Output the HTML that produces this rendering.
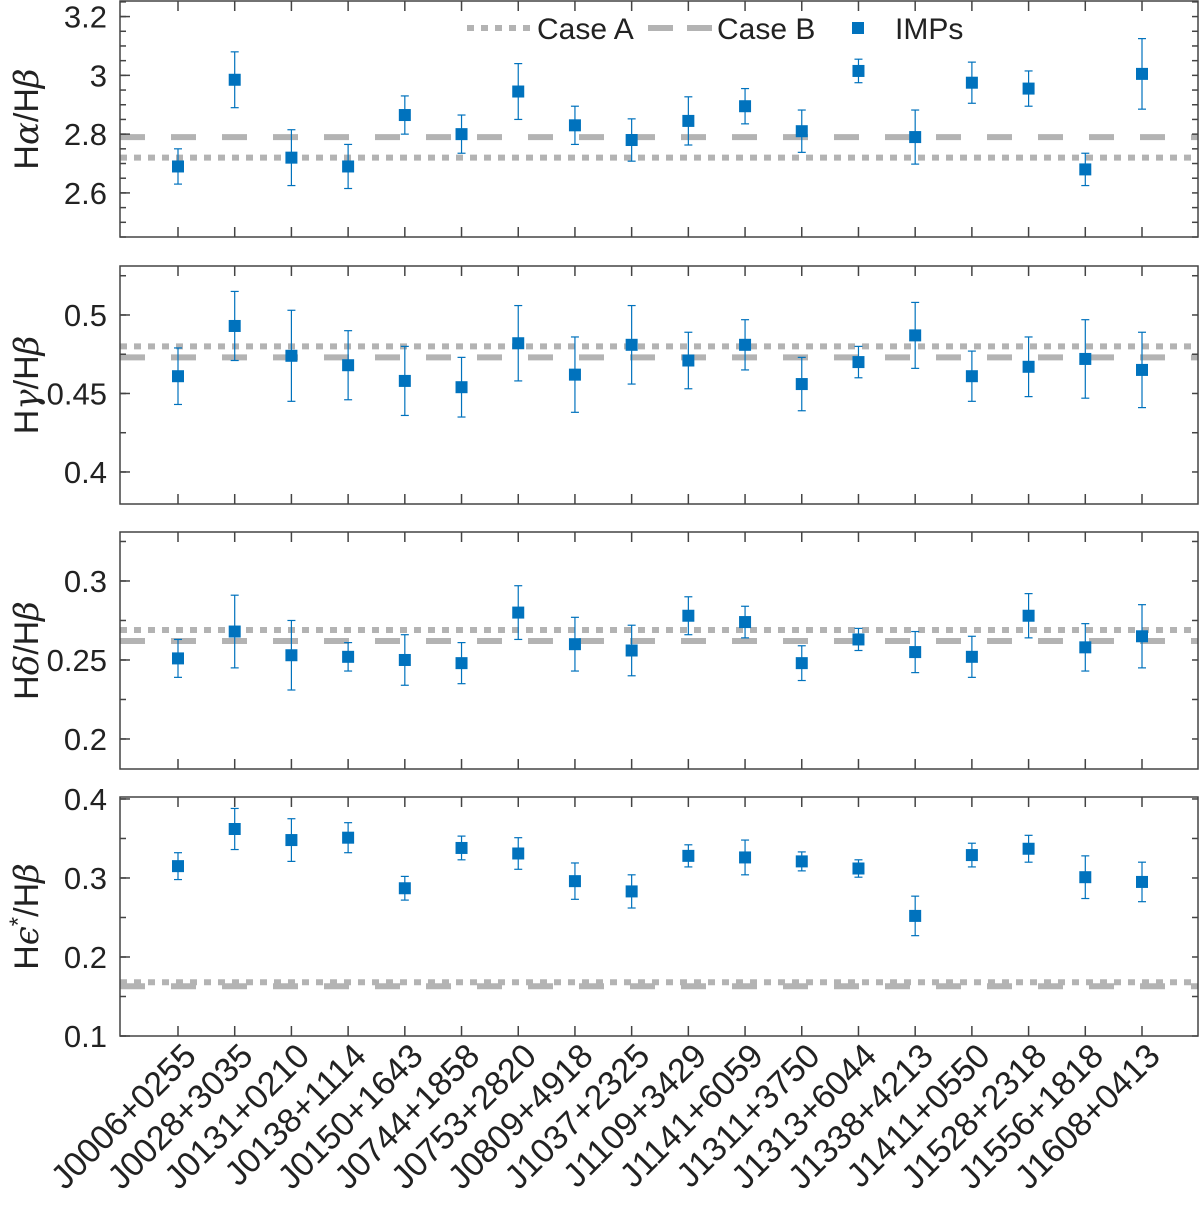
<!DOCTYPE html>
<html><head><meta charset="utf-8"><style>
body{margin:0;background:#fff}
svg text{font-family:"Liberation Sans",sans-serif;fill:#222}
</style></head><body>
<svg id="chart" width="1200" height="1203" xmlns="http://www.w3.org/2000/svg"></svg>
<script>
const categories=["J0006+0255","J0028+3035","J0131+0210","J0138+1114","J0150+1643","J0744+1858","J0753+2820","J0809+4918","J1037+2325","J1109+3429","J1141+6059","J1311+3750","J1313+6044","J1338+4213","J1411+0550","J1528+2318","J1556+1818","J1608+0413"];
const haVals=[2.69,2.985,2.72,2.69,2.865,2.80,2.945,2.83,2.78,2.845,2.895,2.81,3.015,2.79,2.975,2.955,2.68,3.005];
const haErr=[0.06,0.095,0.095,0.075,0.065,0.065,0.095,0.065,0.072,0.082,0.06,0.072,0.04,0.092,0.07,0.06,0.055,0.12];
const hgVals=[0.461,0.493,0.474,0.468,0.458,0.454,0.482,0.462,0.481,0.471,0.481,0.456,0.470,0.487,0.461,0.467,0.472,0.465];
const hgErr=[0.018,0.022,0.029,0.022,0.022,0.019,0.024,0.024,0.025,0.018,0.016,0.017,0.010,0.021,0.016,0.019,0.025,0.024];
const hdVals=[0.251,0.268,0.253,0.252,0.250,0.248,0.280,0.260,0.256,0.278,0.274,0.248,0.263,0.255,0.252,0.278,0.258,0.265];
const hdErr=[0.012,0.023,0.022,0.009,0.016,0.013,0.017,0.017,0.016,0.012,0.010,0.011,0.007,0.013,0.013,0.014,0.015,0.020];
const heVals=[0.315,0.362,0.348,0.351,0.287,0.338,0.331,0.296,0.283,0.328,0.326,0.321,0.312,0.252,0.329,0.337,0.301,0.295];
const heErr=[0.017,0.026,0.027,0.019,0.015,0.015,0.020,0.023,0.021,0.014,0.022,0.012,0.011,0.025,0.015,0.017,0.027,0.025];
const caseA=[2.72,0.480,0.269,0.168];
const caseB=[2.79,0.473,0.262,0.163];
const yTicks=[["2.6","2.8","3","3.2"],["0.4","0.45","0.5"],["0.2","0.25","0.3"],["0.1","0.2","0.3","0.4"]];

const svg=document.getElementById('chart');
const NS='http://www.w3.org/2000/svg';
function mk(tag,attrs,parent){const e=document.createElementNS(NS,tag);for(const k in attrs)e.setAttribute(k,attrs[k]);(parent||svg).appendChild(e);return e;}
const X0=120,X1=1198;
const xScale=i=>178+i*(1142-178)/(categories.length-1);
const panels=[
 {top:1,bot:237,min:2.45,max:3.253,minor:0.05,vals:haVals,err:haErr,name:'halpha-panel',g:'α',star:false},
 {top:266,bot:504,min:0.3796,max:0.5312,minor:0.025,vals:hgVals,err:hgErr,name:'hgamma-panel',g:'γ',star:false},
 {top:532,bot:769,min:0.181,max:0.331,minor:0.025,vals:hdVals,err:hdErr,name:'hdelta-panel',g:'δ',star:false},
 {top:797,bot:1036,min:0.1,max:0.4025,minor:0.05,vals:heVals,err:heErr,name:'hepsilon-panel',g:'ϵ',star:true}
];
panels.forEach((p,pi)=>{
 const g=mk('g',{});
 
 
 const y=v=>p.bot-(v-p.min)/(p.max-p.min)*(p.bot-p.top);
 const lb=mk('line',{x1:X0,x2:X1,y1:y(caseB[pi]),y2:y(caseB[pi]),stroke:'#b3b3b3','stroke-width':6,'stroke-dasharray':'25,26'},g);
 
 const la=mk('line',{x1:X0,x2:X1,y1:y(caseA[pi]),y2:y(caseA[pi]),stroke:'#b3b3b3','stroke-width':6,'stroke-dasharray':'7,7'},g);
 
 const fr=mk('rect',{x:X0,y:p.top,width:X1-X0,height:p.bot-p.top,fill:'none',stroke:'#444','stroke-width':1.5},g);
 
 categories.forEach((c,i)=>{const x=xScale(i);
  mk('line',{x1:x,x2:x,y1:p.bot,y2:p.bot-10,stroke:'#444','stroke-width':1.5},g);
  mk('line',{x1:x,x2:x,y1:p.top,y2:p.top+10,stroke:'#444','stroke-width':1.5},g);});
 for(let v=Math.ceil(p.min/p.minor-1e-9)*p.minor;v<=p.max+1e-9;v+=p.minor){
  mk('line',{x1:X0,x2:X0+6,y1:y(v),y2:y(v),stroke:'#444','stroke-width':1.5},g);
  mk('line',{x1:X1,x2:X1-6,y1:y(v),y2:y(v),stroke:'#444','stroke-width':1.5},g);}
 yTicks[pi].forEach(t=>{const v=parseFloat(t);
  mk('line',{x1:X0,x2:X0+10,y1:y(v),y2:y(v),stroke:'#444','stroke-width':1.5},g);
  const tx=mk('text',{x:107,y:y(v)+11,'text-anchor':'end','font-size':31},g);tx.textContent=t;
  });
 const cy=(p.top+p.bot)/2;
 const yl=mk('text',{x:0,y:0,transform:`translate(38,${cy}) rotate(-90)`,'text-anchor':'middle','font-size':34},g);
 
 let a=mk('tspan',{},yl);a.textContent='H';
 let b=mk('tspan',{'font-family':'DejaVu Serif, serif','font-style':'italic'},yl);b.textContent=p.g;
 if(p.star){let s=mk('tspan',{dy:-12,'font-size':24},yl);s.textContent='*';}
 let c=mk('tspan',{},yl);if(p.star)c.setAttribute('dy',12);c.textContent='/H';
 let d=mk('tspan',{'font-family':'DejaVu Serif, serif','font-style':'italic'},yl);d.textContent='β';
 p.vals.forEach((v,i)=>{const x=xScale(i),e=p.err[i];
  const eb=mk('g',{},g);
  mk('line',{x1:x,x2:x,y1:y(v-e),y2:y(v+e),stroke:'#0072BD','stroke-width':1.2},eb);
  mk('line',{x1:x-4,x2:x+4,y1:y(v-e),y2:y(v-e),stroke:'#0072BD','stroke-width':1.2},eb);
  mk('line',{x1:x-4,x2:x+4,y1:y(v+e),y2:y(v+e),stroke:'#0072BD','stroke-width':1.2},eb);
  mk('rect',{x:x-6,y:y(v)-6,width:12,height:12,fill:'#0072BD'},eb);});
});
categories.forEach((c,i)=>{const x=xScale(i);
 const t=mk('text',{x:0,y:0,transform:`translate(${x+20},${1058}) rotate(-45)`,'text-anchor':'end','font-size':34});
 t.textContent=c;
 
 });
const lg=mk('g',{});


mk('line',{x1:467,x2:531,y1:28,y2:28,stroke:'#b3b3b3','stroke-width':6,'stroke-dasharray':'7,7'},lg);
let t1=mk('text',{x:537,y:39,'font-size':30},lg);t1.textContent='Case A';
mk('line',{x1:648,x2:712,y1:28,y2:28,stroke:'#b3b3b3','stroke-width':6,'stroke-dasharray':'25,14'},lg);
let t2=mk('text',{x:717,y:39,'font-size':30},lg);t2.textContent='Case B';
mk('rect',{x:852,y:22,width:12,height:12,fill:'#0072BD'},lg);
let t3=mk('text',{x:895,y:39,'font-size':30},lg);t3.textContent='IMPs';
</script>
</body></html>
